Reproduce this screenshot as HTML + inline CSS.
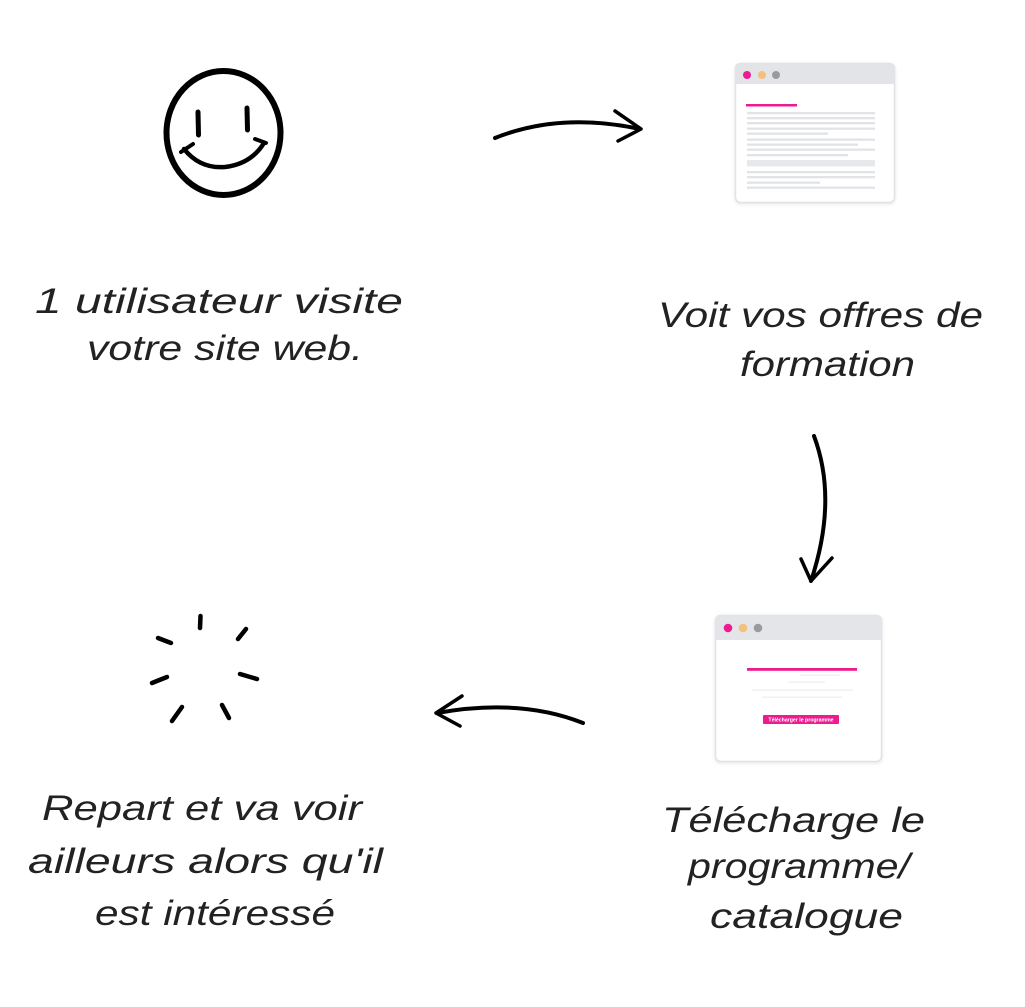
<!DOCTYPE html>
<html><head><meta charset="utf-8">
<style>
html,body{margin:0;padding:0;background:#fff;}
svg{display:block;}
.t{font-family:"Liberation Sans",sans-serif;font-style:italic;font-size:35px;fill:#222;}
</style></head>
<body>
<svg width="1025" height="1007" viewBox="0 0 1025 1007" xmlns="http://www.w3.org/2000/svg">
<defs>
<filter id="sh" x="-10%" y="-10%" width="120%" height="120%">
<feDropShadow dx="0" dy="1" stdDeviation="1.5" flood-color="#000" flood-opacity="0.10"/>
</filter>
</defs>
<rect width="1025" height="1007" fill="#fff"/>

<!-- Smiley -->
<g fill="none" stroke="#000" stroke-linecap="round">
<ellipse cx="223.5" cy="133" rx="57" ry="62" stroke-width="6"/>
<line x1="198" y1="112" x2="198.5" y2="135" stroke-width="5"/>
<line x1="247" y1="108" x2="247.5" y2="130" stroke-width="5"/>
<path d="M184 149 Q200 169 225 167 Q251 164 264 143" stroke-width="4.5"/>
<line x1="181" y1="152" x2="193" y2="144" stroke-width="4"/>
<line x1="255" y1="139" x2="266" y2="143" stroke-width="4"/>
</g>

<!-- Spark -->
<g stroke="#000" stroke-width="4.5" stroke-linecap="round">
<line x1="200.5" y1="616" x2="200" y2="628"/>
<line x1="246" y1="629" x2="238" y2="639"/>
<line x1="158" y1="638" x2="171" y2="643"/>
<line x1="240" y1="674" x2="257" y2="679"/>
<line x1="152" y1="683" x2="167" y2="677"/>
<line x1="182" y1="707" x2="172" y2="721"/>
<line x1="222" y1="705" x2="229" y2="718"/>
</g>

<!-- Arrows -->
<g fill="none" stroke="#000" stroke-linecap="round" stroke-linejoin="round">
<path d="M495 138 Q560 112 640 129" stroke-width="4"/>
<path d="M615 111 L641 129 L618 141" stroke-width="3.5"/>
<path d="M814 436 Q838 500 811 581" stroke-width="4"/>
<path d="M801 559 L811 581 L832 558" stroke-width="3.5"/>
<path d="M583 723 Q520 698 437 713" stroke-width="4"/>
<path d="M462 696 L436 713 L460 726" stroke-width="3.5"/>
</g>

<!-- Browser 1 -->
<g>
<rect x="735.5" y="63.5" width="159" height="139" rx="5" fill="#fff" stroke="#e0e2e6" stroke-width="1.5" filter="url(#sh)"/>
<path d="M735.5 84 V68.5 Q735.5 63.5 740.5 63.5 H889.5 Q894.5 63.5 894.5 68.5 V84 Z" fill="#e2e4e8"/>
<circle cx="747" cy="75" r="4" fill="#ec1b90"/>
<circle cx="762" cy="75" r="4" fill="#f4c07e"/>
<circle cx="776" cy="75" r="4" fill="#9a9a9a"/>
<rect x="746" y="104" width="51" height="2.5" fill="#ec1b90"/>
<g fill="#e1e3e7">
<rect x="747" y="112" width="128" height="2.3"/>
<rect x="747" y="117" width="128" height="2.3"/>
<rect x="747" y="122" width="128" height="2.3"/>
<rect x="747" y="127.5" width="128" height="2.3"/>
<rect x="747" y="132.5" width="81" height="2.3"/>
<rect x="747" y="138.5" width="128" height="2.3"/>
<rect x="747" y="143.5" width="111" height="2.3"/>
<rect x="747" y="148.5" width="128" height="2.3"/>
<rect x="747" y="154" width="101" height="2.3"/>
<rect x="747" y="160" width="128" height="6.5" fill="#e6e8eb"/>
<rect x="747" y="171" width="128" height="2.3"/>
<rect x="747" y="176" width="128" height="2.3"/>
<rect x="747" y="181.5" width="73" height="2.3"/>
<rect x="747" y="186.5" width="128" height="2.3"/>
</g>
</g>

<!-- Browser 2 -->
<g>
<rect x="715.5" y="615.5" width="166" height="146" rx="5" fill="#fff" stroke="#e0e2e6" stroke-width="1.5" filter="url(#sh)"/>
<path d="M715.5 640 V620.5 Q715.5 615.5 720.5 615.5 H876.5 Q881.5 615.5 881.5 620.5 V640 Z" fill="#e3e5e8"/>
<circle cx="728" cy="628" r="4.3" fill="#ec1b90"/>
<circle cx="743" cy="628" r="4.3" fill="#f4c07e"/>
<circle cx="758" cy="628" r="4.3" fill="#9a9a9a"/>
<rect x="747" y="668" width="110" height="2.8" fill="#ec1b90"/>
<g fill="#f1f2f4">
<rect x="800" y="674.5" width="40" height="1.5"/>
<rect x="788" y="681.5" width="37" height="1.5"/>
<rect x="752" y="689.5" width="101" height="1.5"/>
<rect x="762" y="696.5" width="80" height="1.5"/>
</g>
<rect x="763" y="715" width="76" height="9" rx="1" fill="#ec1b90"/>
<text x="801" y="721.5" text-anchor="middle" font-family="Liberation Sans, sans-serif" font-size="5.2" font-weight="bold" fill="#fff">Télécharger le programme</text>
</g>

<!-- Labels -->
<text class="t" x="35" y="313" textLength="368" lengthAdjust="spacingAndGlyphs">1 utilisateur visite</text>
<text class="t" x="87" y="360" textLength="276" lengthAdjust="spacingAndGlyphs">votre site web.</text>

<text class="t" x="658" y="327" textLength="325" lengthAdjust="spacingAndGlyphs">Voit vos offres de</text>
<text class="t" x="740" y="376" textLength="175" lengthAdjust="spacingAndGlyphs">formation</text>

<text class="t" x="42" y="820" textLength="320" lengthAdjust="spacingAndGlyphs">Repart et va voir</text>
<text class="t" x="28" y="873" textLength="355" lengthAdjust="spacingAndGlyphs">ailleurs alors qu'il</text>
<text class="t" x="95" y="925" textLength="240" lengthAdjust="spacingAndGlyphs">est intéressé</text>

<text class="t" x="662" y="832" textLength="263" lengthAdjust="spacingAndGlyphs">Télécharge le</text>
<text class="t" x="688" y="878" textLength="222" lengthAdjust="spacingAndGlyphs">programme/</text>
<text class="t" x="710" y="928" textLength="193" lengthAdjust="spacingAndGlyphs">catalogue</text>
</svg>
</body></html>
